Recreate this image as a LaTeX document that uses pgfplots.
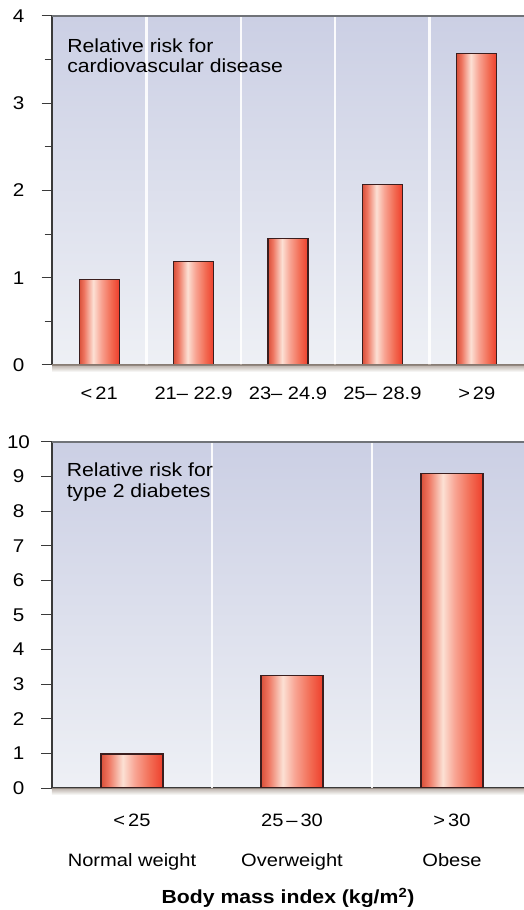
\documentclass[border=0pt]{standalone}
\usepackage{fontspec}
\setmainfont{Liberation Sans}[FakeStretch=1.12]
\usepackage{pgfplots}
\pgfplotsset{compat=1.18}

\definecolor{bgtop}{HTML}{CBCFE4}
\definecolor{bgbot}{HTML}{EEF0F5}
\definecolor{bA}{HTML}{D9503A}
\definecolor{bB}{HTML}{EE7560}
\definecolor{bC}{HTML}{FCE0D4}
\definecolor{bD}{HTML}{F8A392}
\definecolor{bE}{HTML}{F26A52}
\definecolor{bF}{HTML}{EE3F2C}
\definecolor{baredge}{HTML}{3B1E1E}
\definecolor{axcol}{HTML}{3A3A3A}
\definecolor{topline}{HTML}{707378}
\definecolor{shadow}{HTML}{A89C92}

\pgfdeclarehorizontalshading{barshade}{100bp}{color(0bp)=(bA); color(25bp)=(bA); color(31bp)=(bB); color(42.5bp)=(bC); color(52.5bp)=(bD); color(65bp)=(bE); color(75bp)=(bF); color(100bp)=(bF)}

\pgfplotsset{
  panel/.style={
    scale only axis, width=472bp,
    axis x line*=bottom, axis y line*=left,
    axis line style={line width=1.3bp, axcol},
    axis background/.style={shade, top color=bgtop, bottom color=bgbot},
    tick align=outside, major tick length=10.5bp, minor tick length=7.5bp,
    y tick style={line width=1bp, axcol},
    x tick style={draw=none},
    /pgf/number format/assume math mode=true,
    yticklabel style={font=\fontsize{18.5}{20}\selectfont, anchor=center, xshift=-23bp},
    major grid style={white, line width=2.5bp, opacity=0.9},
    extra x tick style={grid=major, major tick length=0pt},
    extra x tick labels={},
    ymin=0,
    clip=false,
    after end axis/.code={
      \shade[top color=shadow, bottom color=white, opacity=0.8] (rel axis cs:0,0) rectangle ([yshift=-7bp]rel axis cs:1,0);
      \draw[topline, line width=1.6bp] (rel axis cs:0,1) -- (rel axis cs:1,1);
    },
  },
  barsty/.style={ybar, bar shift=0pt, draw=baredge, line width=1.2bp, shade, shading=barshade},
}

\begin{document}
\begin{tikzpicture}
\useasboundingbox (0bp,0bp) rectangle (524bp,910bp);

\begin{axis}[panel, at={(52bp,545bp)}, anchor=south west,
  height=349bp, xmin=-0.5, xmax=4.5, ymax=4,
  ytick={0,1,2,3,4}, minor ytick={0.5,1.5,2.5,3.5},
  xtick={0,1,2,3,4},
  xticklabels={{<\,21},{21– 22.9},{23– 24.9},{25– 28.9},{>\,29}},
  xticklabel style={font=\fontsize{18}{20}\selectfont, anchor=base, yshift=-24bp},
  extra x ticks={0.5,1.5,2.5,3.5},
  bar width=40bp]
\addplot[barsty] coordinates {(0,0.98)};
\addplot[barsty] coordinates {(1,1.19)};
\addplot[barsty] coordinates {(2,1.45)};
\addplot[barsty] coordinates {(3,2.07)};
\addplot[barsty] coordinates {(4,3.57)};
\node[anchor=base west, font=\fontsize{19}{20}\selectfont, inner sep=0] at (axis description cs:0.032,0.894) {Relative risk for};
\node[anchor=base west, font=\fontsize{19}{20}\selectfont, inner sep=0] at (axis description cs:0.032,0.837) {cardiovascular disease};
\end{axis}

\begin{axis}[panel, at={(52bp,122bp)}, anchor=south west,
  height=346bp, xmin=-0.5, xmax=2.45, ymax=10,
  ytick={0,1,...,10},
  xtick={0,1,2},
  xticklabels={{\rule{0pt}{13bp}<\,25\\[20bp]Normal weight},{\rule{0pt}{13bp}25\,–\,30\\[20bp]Overweight},{\rule{0pt}{13bp}>\,30\\[20bp]Obese}},
  xticklabel style={font=\fontsize{18}{20}\selectfont, align=center, anchor=north, inner sep=0pt, yshift=-15bp},
  extra x ticks={0.5,1.5},
  bar width=62bp,
  xlabel={\textbf{Body mass index (kg/m\textsuperscript{2})}},
  xlabel style={font=\fontsize{19}{20}\selectfont, at={(axis description cs:0.5,-0.335)}, anchor=base, inner sep=0pt}]
\addplot[barsty] coordinates {(0,0.98)};
\addplot[barsty] coordinates {(1,3.24)};
\addplot[barsty] coordinates {(2,9.10)};
\node[anchor=base west, font=\fontsize{19}{20}\selectfont, inner sep=0] at (axis description cs:0.031,0.899) {Relative risk for};
\node[anchor=base west, font=\fontsize{19}{20}\selectfont, inner sep=0] at (axis description cs:0.031,0.841) {type 2 diabetes};
\end{axis}
\end{tikzpicture}
\end{document}
